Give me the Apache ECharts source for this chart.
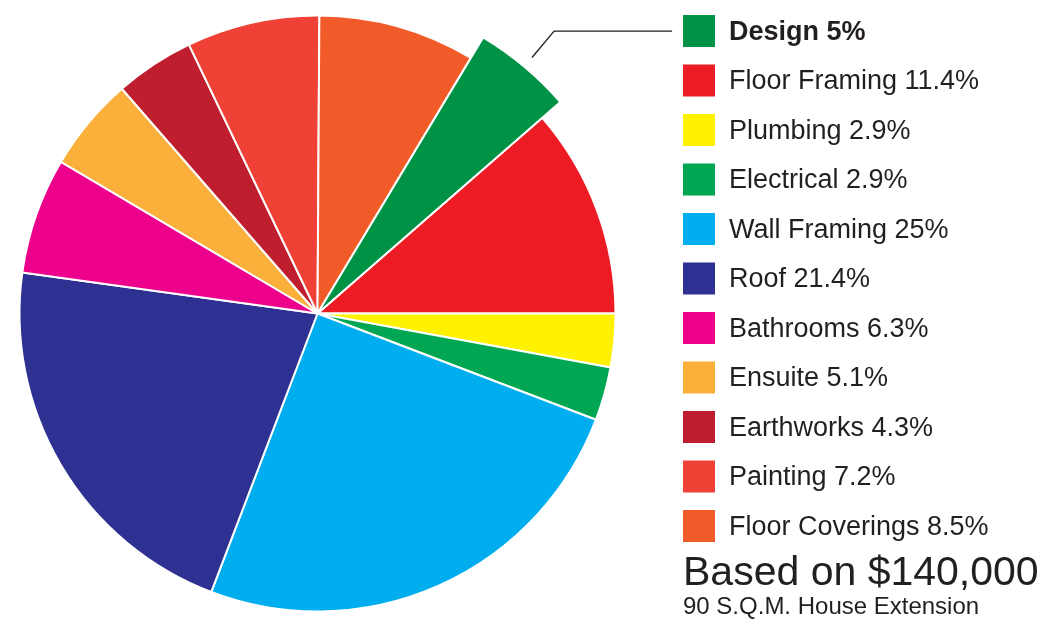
<!DOCTYPE html>
<html><head><meta charset="utf-8">
<script src="https://cdn.jsdelivr.net/npm/echarts@6/dist/echarts.min.js"></script>
<style>html,body{margin:0;padding:0;background:#fff}#c{width:1054px;height:626px}</style>
</head><body><div id="c"></div>
<script>
const categories = ['Design','Floor Framing','Plumbing','Electrical','Wall Framing','Roof','Bathrooms','Ensuite','Earthworks','Painting','Floor Coverings'];
const shares = [5, 11.4, 2.9, 2.9, 25, 21.4, 6.3, 5.1, 4.3, 7.2, 8.5];
const colors = ['#009245','#ED1C24','#FFF200','#00A651','#00AEEF','#2E3192','#EC008C','#FBB03B','#BE1E2D','#EF4136','#F15A29'];
const highlighted = 'Design';
const titleText = 'Based on $140,000';
const subtitleText = '90 S.Q.M. House Extension';

const FONT = "'Liberation Sans', Arial, Helvetica, sans-serif";
const INK = '#231F20';
const CENTER = [317.5, 313.5];
const START = 59.04;
const hiIdx = categories.indexOf(highlighted);

const mainData = categories.map((n, i) => ({ name: n, value: shares[i], itemStyle: { color: colors[i] } }));
const overlayData = categories.map((n, i) => i === hiIdx
  ? { name: n, value: shares[i], itemStyle: { color: colors[i], borderColor: '#fff', borderWidth: 2 } }
  : { name: '_o' + i, value: shares[i], itemStyle: { color: 'rgba(0,0,0,0)', borderWidth: 0 } });
const leaderData = categories.map((n, i) => ({
  name: '_l' + i, value: shares[i],
  itemStyle: { color: 'rgba(0,0,0,0)', borderWidth: 0 },
  label: { show: i === hiIdx },
  labelLine: { show: i === hiIdx }
}));

const chart = echarts.init(document.getElementById('c'), null, { renderer: 'canvas' });
chart.setOption({
  animation: false,
  backgroundColor: '#fff',
  title: {
    text: titleText, subtext: subtitleText,
    left: 683, top: 553, padding: 0, itemGap: 1,
    textStyle: { fontFamily: FONT, fontSize: 41, fontWeight: 'normal', color: INK, lineHeight: 41 },
    subtextStyle: { fontFamily: FONT, fontSize: 24, color: INK, lineHeight: 24 }
  },
  legend: {
    orient: 'vertical', left: 683, top: 15, padding: 0,
    itemWidth: 32, itemHeight: 32, itemGap: 17.5, icon: 'rect',
    itemStyle: { borderWidth: 0 },
    selectedMode: false,
    data: categories,
    formatter: function (name) {
      const i = categories.indexOf(name);
      const t = name + ' ' + shares[i] + '%';
      return i === hiIdx ? '{b|' + t + '}' : t;
    },
    textStyle: {
      fontFamily: FONT, fontSize: 27, color: INK, padding: [3, 0, 0, 9], lineHeight: 29,
      rich: { b: { fontFamily: FONT, fontSize: 27, fontWeight: 'bold', color: INK, lineHeight: 29 } }
    }
  },
  series: [
    {
      type: 'pie', center: CENTER, radius: 298, startAngle: START, clockwise: true,
      data: mainData, silent: true, avoidLabelOverlap: false,
      label: { show: false }, labelLine: { show: false },
      itemStyle: { borderColor: '#fff', borderWidth: 2 },
      emphasis: { disabled: true }
    },
    {
      type: 'pie', center: CENTER, radius: 322, startAngle: START, clockwise: true,
      data: overlayData, silent: true, avoidLabelOverlap: false, z: 3,
      label: { show: false }, labelLine: { show: false },
      emphasis: { disabled: true }
    },
    {
      type: 'pie', center: CENTER, radius: 334, startAngle: START, clockwise: true,
      data: leaderData, silent: true, avoidLabelOverlap: false, z: 4,
      label: { position: 'outside', formatter: ' ', fontSize: 10 },
      labelLine: { length: 34.4, length2: 118, smooth: false, lineStyle: { color: INK, width: 1.3 } },
      emphasis: { disabled: true }
    }
  ]
});
</script>
</body></html>
